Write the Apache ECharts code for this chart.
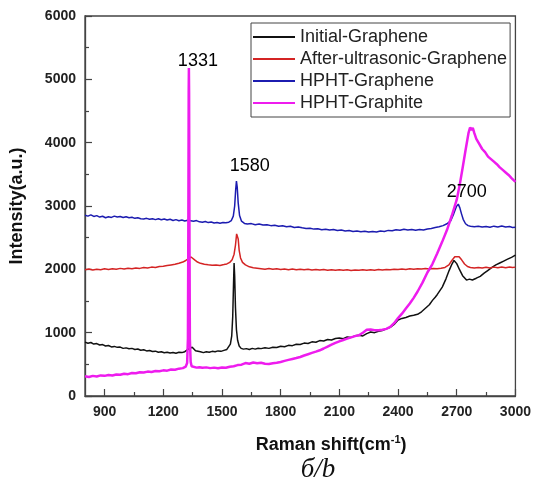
<!DOCTYPE html>
<html><head><meta charset="utf-8">
<script src="https://cdn.jsdelivr.net/npm/echarts@6/dist/echarts.min.js"></script>
<style>html,body{margin:0;padding:0;background:#fff}#c{width:534px;height:484px}</style>
</head><body><div id="c"></div><script>
const seriesNames = ['Initial-Graphene', 'After-ultrasonic-Graphene', 'HPHT-Graphene', 'HPHT-Graphite'];
const xTickLabels = [900, 1200, 1500, 1800, 2100, 2400, 2700, 3000];
const xMinorTicks = [1050, 1350, 1650, 1950, 2250, 2550, 2850];
const yRange = [0, 6000];
const xRange = [800, 3000];

const initialGraphene = [
[800,850],[815,832],[830,845],[845,820],[860,828],[875,805],[890,812],[905,790],[920,798],[935,775],[950,783],[965,768],[980,772],[995,752],[1010,760],[1025,745],[1040,752],[1055,735],[1070,742],[1085,722],[1100,730],[1115,712],[1130,718],[1145,702],[1160,708],[1175,690],[1190,698],[1205,682],[1220,690],[1235,678],[1250,688],[1265,676],[1280,690],[1295,685],[1310,700],[1320,715],[1330,745],[1340,775],[1348,770],[1356,745],[1365,715],[1375,690],[1390,700],[1405,685],[1420,698],[1435,690],[1450,705],[1465,698],[1480,712],[1495,705],[1510,720],[1525,735],[1535,760],[1543,820],[1550,950],[1555,1250],[1559,1750],[1562,2100],[1565,1900],[1569,1400],[1574,1050],[1580,880],[1588,790],[1598,752],[1610,740],[1625,748],[1640,735],[1655,752],[1670,740],[1685,755],[1700,748],[1720,762],[1740,752],[1760,770],[1780,765],[1800,785],[1820,778],[1840,800],[1860,795],[1880,818],[1900,812],[1920,835],[1940,828],[1960,855],[1980,848],[2000,875],[2020,868],[2040,892],[2060,885],[2080,908],[2100,915],[2120,905],[2140,932],[2160,925],[2180,950],[2200,958],[2220,948],[2240,985],[2260,1010],[2280,1000],[2300,1022],[2320,1035],[2340,1060],[2360,1085],[2380,1130],[2400,1200],[2420,1225],[2440,1240],[2460,1262],[2480,1275],[2500,1290],[2520,1330],[2540,1385],[2560,1440],[2576,1510],[2590,1560],[2600,1600],[2613,1660],[2626,1720],[2645,1850],[2661,1980],[2675,2080],[2686,2140],[2700,2090],[2715,1990],[2730,1900],[2750,1830],[2765,1845],[2780,1832],[2800,1860],[2820,1890],[2840,1940],[2860,1985],[2880,2030],[2900,2070],[2920,2100],[2940,2130],[2960,2160],[2980,2190],[3000,2225]
];
const afterUltrasonicGraphene = [
[800,1995],[820,2005],[840,1990],[860,2002],[880,1995],[900,2008],[920,1998],[940,2010],[960,2002],[980,2015],[1000,2005],[1020,2018],[1040,2010],[1060,2022],[1080,2015],[1100,2028],[1120,2022],[1140,2035],[1160,2030],[1180,2045],[1200,2050],[1220,2060],[1240,2070],[1260,2080],[1280,2095],[1300,2115],[1315,2140],[1330,2170],[1342,2195],[1352,2180],[1362,2145],[1375,2115],[1390,2095],[1410,2080],[1430,2072],[1450,2065],[1470,2068],[1490,2062],[1510,2075],[1525,2085],[1540,2110],[1552,2150],[1562,2240],[1569,2380],[1575,2560],[1579,2590],[1583,2480],[1588,2300],[1595,2180],[1605,2110],[1620,2070],[1640,2040],[1660,2025],[1680,2018],[1700,2010],[1720,2002],[1740,2012],[1760,2000],[1780,2008],[1800,1998],[1820,2006],[1840,1995],[1860,2004],[1880,1993],[1900,2002],[1920,1992],[1940,2000],[1960,1990],[1980,1998],[2000,1988],[2020,1996],[2040,1986],[2060,1995],[2080,1985],[2100,1993],[2120,1984],[2140,1992],[2160,1983],[2180,1991],[2200,1984],[2220,1992],[2240,1985],[2260,1994],[2280,1987],[2300,1996],[2320,1990],[2340,1999],[2360,1993],[2380,2002],[2400,1996],[2420,2005],[2440,1999],[2460,2008],[2480,2002],[2500,2010],[2520,2004],[2540,2012],[2560,2006],[2580,2014],[2600,2010],[2620,2018],[2640,2030],[2660,2070],[2675,2140],[2690,2200],[2700,2215],[2712,2200],[2725,2150],[2740,2085],[2755,2045],[2770,2030],[2790,2022],[2810,2030],[2830,2020],[2850,2032],[2870,2022],[2890,2035],[2910,2025],[2930,2036],[2950,2026],[2970,2038],[2985,2028],[3000,2035]
];
const hphtGraphene = [
[800,2853],[815,2840],[830,2860],[845,2835],[860,2848],[875,2825],[890,2838],[905,2815],[920,2830],[935,2820],[950,2840],[965,2825],[980,2835],[995,2818],[1010,2830],[1025,2815],[1040,2822],[1055,2805],[1070,2815],[1085,2800],[1100,2795],[1115,2805],[1130,2790],[1145,2800],[1160,2785],[1175,2798],[1190,2782],[1205,2795],[1220,2778],[1235,2790],[1250,2772],[1265,2785],[1280,2768],[1295,2778],[1310,2762],[1325,2775],[1340,2768],[1355,2758],[1370,2770],[1385,2750],[1400,2742],[1415,2755],[1430,2738],[1445,2748],[1460,2732],[1475,2740],[1490,2728],[1505,2738],[1520,2735],[1535,2745],[1548,2770],[1558,2840],[1565,3000],[1570,3250],[1574,3395],[1578,3300],[1583,3050],[1590,2850],[1600,2760],[1615,2725],[1630,2715],[1650,2722],[1670,2705],[1690,2715],[1710,2700],[1730,2705],[1750,2690],[1770,2695],[1790,2680],[1810,2688],[1830,2672],[1850,2680],[1870,2662],[1890,2670],[1910,2655],[1930,2645],[1950,2650],[1970,2635],[1990,2640],[2010,2625],[2030,2632],[2050,2620],[2070,2628],[2090,2612],[2110,2620],[2130,2605],[2150,2612],[2170,2598],[2190,2605],[2210,2592],[2230,2600],[2250,2588],[2270,2598],[2290,2590],[2310,2605],[2330,2598],[2350,2615],[2370,2608],[2390,2625],[2410,2618],[2430,2632],[2450,2622],[2470,2630],[2490,2618],[2510,2628],[2530,2622],[2550,2638],[2570,2645],[2590,2660],[2610,2672],[2630,2690],[2650,2720],[2670,2770],[2685,2880],[2698,2990],[2708,3030],[2716,2970],[2724,2880],[2733,2790],[2745,2720],[2758,2690],[2770,2680],[2790,2672],[2810,2680],[2830,2668],[2850,2678],[2870,2665],[2890,2682],[2910,2670],[2930,2685],[2950,2668],[2970,2675],[2985,2662],[3000,2665]
];
const hphtGraphite = [
[800,311],[820,300],[840,318],[860,308],[880,325],[900,318],[920,332],[940,325],[960,340],[980,335],[1000,352],[1020,345],[1040,362],[1060,358],[1080,375],[1100,370],[1120,385],[1140,380],[1160,395],[1180,392],[1200,405],[1220,400],[1240,418],[1260,415],[1280,432],[1300,440],[1315,465],[1322,520],[1326,900],[1328,2500],[1330,4800],[1331,5180],[1332,4800],[1334,2500],[1336,900],[1340,540],[1345,470],[1355,455],[1370,448],[1385,455],[1400,445],[1420,452],[1440,440],[1460,448],[1480,438],[1500,450],[1520,445],[1540,462],[1560,470],[1580,488],[1600,495],[1620,520],[1640,510],[1660,528],[1680,518],[1700,525],[1720,510],[1740,505],[1760,518],[1780,525],[1800,537],[1820,555],[1840,570],[1860,585],[1880,600],[1900,616],[1920,640],[1940,660],[1960,680],[1980,700],[2000,722],[2020,750],[2040,780],[2060,810],[2080,838],[2100,864],[2120,885],[2140,905],[2160,925],[2180,945],[2200,958],[2220,1000],[2240,1045],[2250,1055],[2260,1050],[2280,1040],[2300,1038],[2320,1045],[2340,1060],[2360,1090],[2380,1150],[2400,1230],[2420,1300],[2440,1380],[2460,1460],[2480,1550],[2500,1650],[2525,1790],[2550,1950],[2575,2080],[2600,2250],[2625,2430],[2650,2620],[2675,2850],[2700,3100],[2715,3330],[2730,3600],[2745,3880],[2760,4150],[2768,4240],[2775,4200],[2782,4235],[2790,4150],[2800,4060],[2815,3980],[2830,3900],[2845,3850],[2860,3780],[2875,3740],[2890,3700],[2905,3660],[2920,3610],[2935,3570],[2950,3530],[2965,3490],[2980,3440],[2990,3420],[3000,3380]
];
const peakLabels = [[1377, 5285, '1331'], [1642, 3629, '1580'], [2751, 3219, '2700']];
const caption = 'б/b';

const FONT = '"Liberation Sans", Arial, sans-serif';
const colors = ['#111111', '#d42424', '#1c1cb0', '#ee1cee'];
const widths = [1.5, 1.5, 1.5, 2.5];
const datasets = [initialGraphene, afterUltrasonicGraphene, hphtGraphene, hphtGraphite];

const chart = echarts.init(document.getElementById('c'), null, {renderer: 'canvas'});
const lineSeries = seriesNames.map((n, i) => ({
  name: n, type: 'line', data: datasets[i], showSymbol: false, symbol: 'none',
  lineStyle: {color: colors[i], width: widths[i]}, itemStyle: {color: colors[i]},
  xAxisIndex: 0, yAxisIndex: 0, z: 2 + i, animation: false
}));
lineSeries.push({
  type: 'scatter', data: peakLabels, symbolSize: 1, itemStyle: {color: 'rgba(0,0,0,0)'},
  label: {show: true, position: 'inside', formatter: p => p.data[2], fontFamily: FONT, fontSize: 18, color: '#000', opacity: 1},
  z: 10, silent: true, animation: false
});

chart.setOption({
  animation: false,
  backgroundColor: '#fff',
  grid: {left: 79, right: 16, top: 16, bottom: 88, show: true, borderColor: '#444', borderWidth: 1.3, backgroundColor: 'transparent'},
  legend: {
    data: seriesNames.map((n, i) => ({name: n, icon: 'rect', itemStyle: {color: colors[i]}})),
    orient: 'vertical', left: 251, top: 23,
    padding: [4, 3, 4, 2], itemGap: 2, itemWidth: 42, itemHeight: 2,
    borderColor: '#444', borderWidth: 1, backgroundColor: '#fff',
    textStyle: {fontFamily: FONT, fontSize: 18, lineHeight: 20, color: '#222'}
  },
  xAxis: [{
    type: 'value', min: xRange[0], max: xRange[1],
    axisLine: {show: true, lineStyle: {color: '#444', width: 1.3}},
    axisTick: {show: true, inside: true, length: 7, customValues: xTickLabels, lineStyle: {color: '#444', width: 1.2}},
    axisLabel: {customValues: xTickLabels, formatter: v => String(v), fontFamily: FONT, fontWeight: 'bold', fontSize: 14, color: '#222', margin: 9},
    splitLine: {show: false},
    name: '{b|Raman shift(cm}{sup|-1}{b|)}', nameLocation: 'middle', nameGap: 38,
    nameTextStyle: {fontFamily: FONT, fontWeight: 'bold', fontSize: 18, color: '#111', padding: [0, 0, 0, 62],
      rich: {
        b: {fontFamily: FONT, fontWeight: 'bold', fontSize: 18, color: '#111', lineHeight: 22},
        sup: {fontFamily: FONT, fontWeight: 'bold', fontSize: 11, color: '#111', lineHeight: 12, verticalAlign: 'top'}
      }}
  }, {
    type: 'value', min: xRange[0], max: xRange[1], position: 'bottom',
    axisLine: {show: false},
    axisTick: {show: true, inside: true, length: 4, customValues: xMinorTicks, lineStyle: {color: '#444', width: 1.2}},
    axisLabel: {show: false}, splitLine: {show: false}
  }],
  yAxis: {
    type: 'value', min: yRange[0], max: yRange[1], interval: 1000,
    axisLine: {show: true, lineStyle: {color: '#444', width: 1.3}},
    axisTick: {show: true, inside: true, length: 7, lineStyle: {color: '#444', width: 1.2}},
    minorTick: {show: true, splitNumber: 2, length: 4, lineStyle: {color: '#444', width: 1.2}},
    axisLabel: {formatter: v => String(v), fontFamily: FONT, fontWeight: 'bold', fontSize: 14, color: '#222', margin: 9},
    splitLine: {show: false},
    name: 'Intensity(a.u.)', nameLocation: 'middle', nameGap: 59,
    nameTextStyle: {fontFamily: FONT, fontWeight: 'bold', fontSize: 18, color: '#111'}
  },
  graphic: [{
    type: 'text', x: 318, y: 470,
    style: {text: caption, font: 'italic 27px "Liberation Serif", "Times New Roman", serif', fill: '#111', textAlign: 'center', textVerticalAlign: 'middle'}
  }],
  series: lineSeries
});
</script></body></html>
